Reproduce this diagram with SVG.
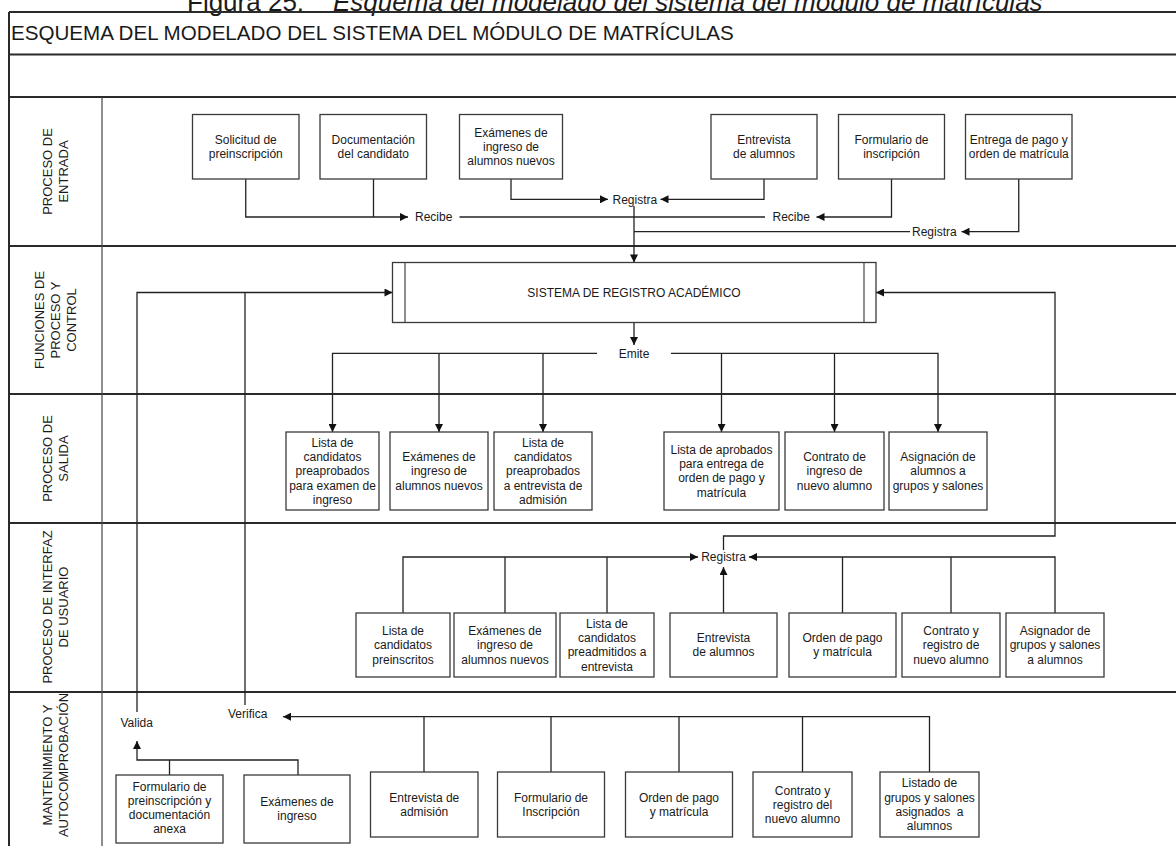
<svg xmlns="http://www.w3.org/2000/svg" width="1176" height="846" viewBox="0 0 1176 846">
  <style>
    text { font-family: "Liberation Sans", Arial, sans-serif; fill: #1a1a1a; }
    .bt { font-size: 12px; text-anchor: middle; }
    .cl { font-size: 12px; }
    .ll { font-size: 13px; text-anchor: middle; }
    .box { fill: #ffffff; stroke: #3a3a3a; stroke-width: 1.3; }
    .frame { stroke: #2a2a2a; stroke-width: 2; fill: none; }
    .thin { stroke: #444; stroke-width: 1.2; fill: none; }
    .cn { stroke: #222; stroke-width: 1.3; fill: none; }
    .arr { marker-end: url(#ah); }
  </style>
  <defs>
    <marker id="ah" viewBox="0 0 10 10" refX="10" refY="5" markerWidth="9" markerHeight="8" markerUnits="userSpaceOnUse" orient="auto">
      <path d="M0,0 L10,5 L0,10 z" fill="#111"/>
    </marker>
  </defs>

  <rect x="0" y="0" width="1176" height="846" fill="#ffffff"/>

  <!-- caption above the frame -->
  <text x="187" y="11" font-size="26">Figura 25:</text>
  <text x="333" y="11" font-size="26" font-style="italic">Esquema del modelado del sistema del módulo de matrículas</text>

  <!-- swimlane frame -->
  <g id="lanes">
    <line class="frame" x1="9" y1="12" x2="1176" y2="12"/>
    <line class="frame" x1="9" y1="12" x2="9" y2="846"/>
    <line class="frame" x1="9" y1="54.5" x2="1176" y2="54.5"/>
    <line class="frame" x1="9" y1="97" x2="1176" y2="97"/>
    <line class="frame" x1="9" y1="246" x2="1176" y2="246"/>
    <line class="frame" x1="9" y1="394" x2="1176" y2="394"/>
    <line class="frame" x1="9" y1="523" x2="1176" y2="523"/>
    <line class="frame" x1="9" y1="692" x2="1176" y2="692"/>
    <line class="thin" x1="102" y1="97" x2="102" y2="846"/>
    <text x="11" y="40" font-size="20.6">ESQUEMA DEL MODELADO DEL SISTEMA DEL MÓDULO DE MATRÍCULAS</text>
    <text class="ll" transform="translate(55.5,171.5) rotate(-90)"><tspan x="0" y="-3.35">PROCESO DE</tspan><tspan x="0" y="12.65">ENTRADA</tspan></text>
    <text class="ll" transform="translate(55.5,320) rotate(-90)"><tspan x="0" y="-11.35">FUNCIONES DE</tspan><tspan x="0" y="4.65">PROCESO Y</tspan><tspan x="0" y="20.65">CONTROL</tspan></text>
    <text class="ll" transform="translate(55.5,458.5) rotate(-90)"><tspan x="0" y="-3.35">PROCESO DE</tspan><tspan x="0" y="12.65">SALIDA</tspan></text>
    <text class="ll" transform="translate(55.5,607) rotate(-90)"><tspan x="0" y="-3.35">PROCESO DE INTERFAZ</tspan><tspan x="0" y="12.65">DE USUARIO</tspan></text>
    <text class="ll" transform="translate(55.5,765) rotate(-90)"><tspan x="0" y="-3.35">MANTENIMIENTO Y</tspan><tspan x="0" y="12.65">AUTOCOMPROBACIÓN</tspan></text>
  </g>

  <!-- connectors and their labels -->
  <g id="connectors">
    <!-- entry lane -->
    <path class="cn arr" d="M245.75,179 V217 H408"/>
    <path class="cn" d="M373.5,179 V217"/>
    <path class="cn" d="M459.5,217 H765"/>
    <text class="cl" x="415" y="221.3">Recibe</text>
    <path class="cn arr" d="M891.5,179 V217 H816.5"/>
    <text class="cl" x="772.5" y="221.3">Recibe</text>
    <path class="cn arr" d="M511,179 V199.3 H608"/>
    <path class="cn arr" d="M764,179 V199.3 H660.5"/>
    <text class="cl" x="612.5" y="203.6">Registra</text>
    <path class="cn arr" d="M634,206 V262.5"/>
    <path class="cn" d="M634,231.7 H910"/>
    <path class="cn arr" d="M1018.75,179 V231.7 H961.5"/>
    <text class="cl" x="912" y="236">Registra</text>

    <!-- control lane -->
    <path class="cn arr" d="M137,712 V292.5 H392.5"/>
    <path class="cn" d="M245,705 V292.5"/>
    <path class="cn arr" d="M723.5,550 V536 H1055 V292.5 H876"/>
    <path class="cn arr" d="M634,322.5 V345"/>
    <text class="bt" x="634" y="357.6">Emite</text>
    <path class="cn arr" d="M597,353.3 H332.5 V432"/>
    <path class="cn arr" d="M439,353.3 V432"/>
    <path class="cn arr" d="M543,353.3 V432"/>
    <path class="cn arr" d="M671,353.3 H938 V432"/>
    <path class="cn arr" d="M721.5,353.3 V432"/>
    <path class="cn arr" d="M834.5,353.3 V432"/>

    <!-- user interface lane -->
    <path class="cn arr" d="M403,613 V557 H698"/>
    <path class="cn" d="M505,613 V557"/>
    <path class="cn" d="M607,613 V557"/>
    <path class="cn arr" d="M1055,613 V557 H749"/>
    <path class="cn" d="M842.5,613 V557"/>
    <path class="cn" d="M951,613 V557"/>
    <path class="cn arr" d="M723.5,613 V567"/>
    <text class="bt" x="723.5" y="561.3">Registra</text>

    <!-- maintenance lane -->
    <path class="cn arr" d="M929.5,772 V716.7 H283"/>
    <path class="cn" d="M424,772 V716.7"/>
    <path class="cn" d="M551,772 V716.7"/>
    <path class="cn" d="M679,772 V716.7"/>
    <path class="cn" d="M802.5,772 V716.7"/>
    <text class="cl" x="228" y="718.3">Verifica</text>
    <path class="cn arr" d="M298,775 V760 H137 V741"/>
    <path class="cn" d="M169.5,775 V760"/>
    <text class="cl" x="120.5" y="727">Valida</text>
  </g>

  <!-- entry lane nodes -->
  <g id="n-solicitud"><rect class="box" x="192.5" y="114.5" width="106.5" height="64.5"/>
    <text class="bt"><tspan x="245.75" y="143.9">Solicitud de</tspan><tspan x="245.75" dy="14.3">preinscripción</tspan></text></g>
  <g id="n-documentacion"><rect class="box" x="320" y="114.5" width="106.5" height="64.5"/>
    <text class="bt"><tspan x="373.25" y="143.9">Documentación</tspan><tspan x="373.25" dy="14.3">del candidato</tspan></text></g>
  <g id="n-examenes-entrada"><rect class="box" x="459.5" y="114.5" width="103" height="64.5"/>
    <text class="bt"><tspan x="511" y="136.75">Exámenes de</tspan><tspan x="511" dy="14.3">ingreso de</tspan><tspan x="511" dy="14.3">alumnos nuevos</tspan></text></g>
  <g id="n-entrevista-entrada"><rect class="box" x="711" y="114.5" width="106" height="64.5"/>
    <text class="bt"><tspan x="764" y="143.9">Entrevista</tspan><tspan x="764" dy="14.3">de alumnos</tspan></text></g>
  <g id="n-formulario-entrada"><rect class="box" x="838.5" y="114.5" width="106" height="64.5"/>
    <text class="bt"><tspan x="891.5" y="143.9">Formulario de</tspan><tspan x="891.5" dy="14.3">inscripción</tspan></text></g>
  <g id="n-entrega"><rect class="box" x="965.5" y="114.5" width="106.5" height="64.5"/>
    <text class="bt"><tspan x="1018.75" y="143.9">Entrega de pago y</tspan><tspan x="1018.75" dy="14.3">orden de matrícula</tspan></text></g>

  <!-- control lane node -->
  <g id="n-sistema">
    <rect class="box" x="392.5" y="262.5" width="483.5" height="60"/>
    <line class="thin" x1="405" y1="262.5" x2="405" y2="322.5"/>
    <line class="thin" x1="864" y1="262.5" x2="864" y2="322.5"/>
    <text class="bt" x="634" y="296.6">SISTEMA DE REGISTRO ACADÉMICO</text>
  </g>

  <!-- output lane nodes -->
  <g id="n-lista-examen"><rect class="box" x="286" y="432" width="93" height="78"/>
    <text class="bt"><tspan x="332.5" y="446.7">Lista de</tspan><tspan x="332.5" dy="14.3">candidatos</tspan><tspan x="332.5" dy="14.3">preaprobados</tspan><tspan x="332.5" dy="14.3">para examen de</tspan><tspan x="332.5" dy="14.3">ingreso</tspan></text></g>
  <g id="n-examenes-salida"><rect class="box" x="390" y="432" width="98" height="78"/>
    <text class="bt"><tspan x="439" y="461">Exámenes de</tspan><tspan x="439" dy="14.3">ingreso de</tspan><tspan x="439" dy="14.3">alumnos nuevos</tspan></text></g>
  <g id="n-lista-entrevista"><rect class="box" x="494" y="432" width="98" height="78"/>
    <text class="bt"><tspan x="543" y="446.7">Lista de</tspan><tspan x="543" dy="14.3">candidatos</tspan><tspan x="543" dy="14.3">preaprobados</tspan><tspan x="543" dy="14.3">a entrevista de</tspan><tspan x="543" dy="14.3">admisión</tspan></text></g>
  <g id="n-lista-aprobados"><rect class="box" x="664" y="432" width="115" height="78"/>
    <text class="bt"><tspan x="721.5" y="453.85">Lista de aprobados</tspan><tspan x="721.5" dy="14.3">para entrega de</tspan><tspan x="721.5" dy="14.3">orden de pago y</tspan><tspan x="721.5" dy="14.3">matrícula</tspan></text></g>
  <g id="n-contrato-salida"><rect class="box" x="785" y="432" width="99" height="78"/>
    <text class="bt"><tspan x="834.5" y="461">Contrato de</tspan><tspan x="834.5" dy="14.3">ingreso de</tspan><tspan x="834.5" dy="14.3">nuevo alumno</tspan></text></g>
  <g id="n-asignacion"><rect class="box" x="889" y="432" width="98" height="78"/>
    <text class="bt"><tspan x="938" y="461">Asignación de</tspan><tspan x="938" dy="14.3">alumnos a</tspan><tspan x="938" dy="14.3">grupos y salones</tspan></text></g>

  <!-- user interface lane nodes -->
  <g id="n-ui-preinscritos"><rect class="box" x="356" y="613" width="94" height="64"/>
    <text class="bt"><tspan x="403" y="635">Lista de</tspan><tspan x="403" dy="14.3">candidatos</tspan><tspan x="403" dy="14.3">preinscritos</tspan></text></g>
  <g id="n-ui-examenes"><rect class="box" x="454" y="613" width="102" height="64"/>
    <text class="bt"><tspan x="505" y="635">Exámenes de</tspan><tspan x="505" dy="14.3">ingreso de</tspan><tspan x="505" dy="14.3">alumnos nuevos</tspan></text></g>
  <g id="n-ui-preadmitidos"><rect class="box" x="560" y="613" width="94" height="64"/>
    <text class="bt"><tspan x="607" y="627.85">Lista de</tspan><tspan x="607" dy="14.3">candidatos</tspan><tspan x="607" dy="14.3">preadmitidos a</tspan><tspan x="607" dy="14.3">entrevista</tspan></text></g>
  <g id="n-ui-entrevista"><rect class="box" x="670" y="613" width="107" height="64"/>
    <text class="bt"><tspan x="723.5" y="642.15">Entrevista</tspan><tspan x="723.5" dy="14.3">de alumnos</tspan></text></g>
  <g id="n-ui-orden"><rect class="box" x="789" y="613" width="107" height="64"/>
    <text class="bt"><tspan x="842.5" y="642.15">Orden de pago</tspan><tspan x="842.5" dy="14.3">y matrícula</tspan></text></g>
  <g id="n-ui-contrato"><rect class="box" x="902" y="613" width="98" height="64"/>
    <text class="bt"><tspan x="951" y="635">Contrato y</tspan><tspan x="951" dy="14.3">registro de</tspan><tspan x="951" dy="14.3">nuevo alumno</tspan></text></g>
  <g id="n-ui-asignador"><rect class="box" x="1006" y="613" width="98" height="64"/>
    <text class="bt"><tspan x="1055" y="635">Asignador de</tspan><tspan x="1055" dy="14.3">grupos y salones</tspan><tspan x="1055" dy="14.3">a alumnos</tspan></text></g>

  <!-- maintenance lane nodes -->
  <g id="n-m-formulario-pre"><rect class="box" x="116" y="775" width="107" height="68"/>
    <text class="bt"><tspan x="169.5" y="790.5">Formulario de</tspan><tspan x="169.5" dy="14.3">preinscripción y</tspan><tspan x="169.5" dy="14.3">documentación</tspan><tspan x="169.5" dy="14.3">anexa</tspan></text></g>
  <g id="n-m-examenes"><rect class="box" x="244" y="775" width="106" height="68"/>
    <text class="bt"><tspan x="297" y="806.15">Exámenes de</tspan><tspan x="297" dy="14.3">ingreso</tspan></text></g>
  <g id="n-m-entrevista"><rect class="box" x="370.5" y="772" width="107.5" height="65"/>
    <text class="bt"><tspan x="424.25" y="801.65">Entrevista de</tspan><tspan x="424.25" dy="14.3">admisión</tspan></text></g>
  <g id="n-m-formulario"><rect class="box" x="497.5" y="772" width="107" height="65"/>
    <text class="bt"><tspan x="551" y="801.65">Formulario de</tspan><tspan x="551" dy="14.3">Inscripción</tspan></text></g>
  <g id="n-m-orden"><rect class="box" x="625.5" y="772" width="107" height="65"/>
    <text class="bt"><tspan x="679" y="801.65">Orden de pago</tspan><tspan x="679" dy="14.3">y matrícula</tspan></text></g>
  <g id="n-m-contrato"><rect class="box" x="753" y="772" width="99" height="65"/>
    <text class="bt"><tspan x="802.5" y="794.5">Contrato y</tspan><tspan x="802.5" dy="14.3">registro del</tspan><tspan x="802.5" dy="14.3">nuevo alumno</tspan></text></g>
  <g id="n-m-listado"><rect class="box" x="880" y="772" width="99" height="65"/>
    <text class="bt"><tspan x="929.5" y="787.35">Listado de</tspan><tspan x="929.5" dy="14.3">grupos y salones</tspan><tspan x="929.5" dy="14.3" style="white-space:pre">asignados  a</tspan><tspan x="929.5" dy="14.3">alumnos</tspan></text></g>
</svg>
